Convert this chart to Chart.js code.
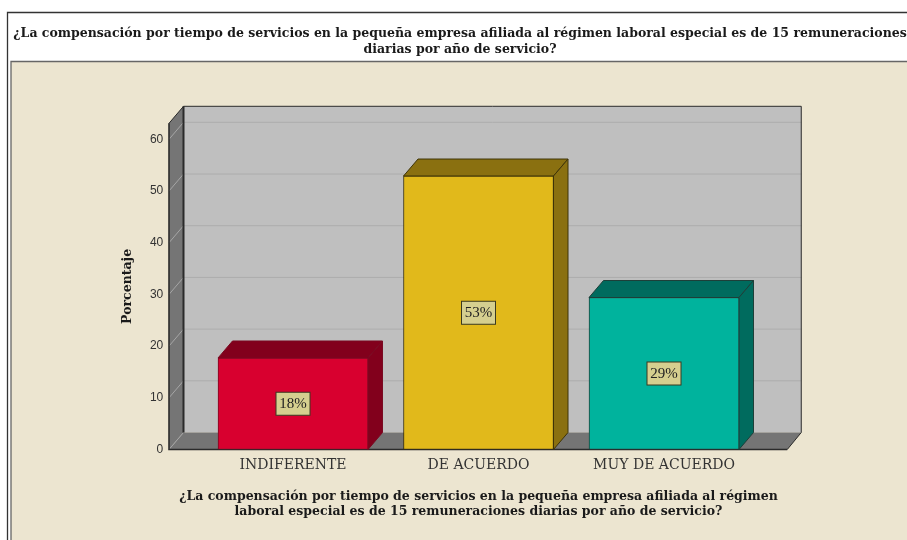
<!DOCTYPE html>
<html>
<head>
<meta charset="utf-8">
<title>Porcentaje</title>
<script src="https://cdn.jsdelivr.net/npm/chart.js@4"></script>
<style>
html,body{margin:0;padding:0;background:#fff;}
canvas{display:block;}
</style>
</head>
<body>
<canvas id="chart" width="907" height="540"></canvas>
<script>
const categories = ['INDIFERENTE','DE ACUERDO','MUY DE ACUERDO'];
const values = [17.7,52.9,29.4];
const pctLabels = ['18%','53%','29%'];
const yTicks = [0,10,20,30,40,50,60];
const faceColors = ['#D8002F','#E1B91B','#00B39D'];
const sideColors = ['#82001C','#8A7010','#006B5E'];
const edgeColors = ['#7A0A22','#3F3408','#1E3F39'];
const titleLines = ['¿La compensación por tiempo de servicios en la pequeña empresa afiliada al régimen laboral especial es de 15 remuneraciones','diarias por año de servicio?'];
const xTitleLines = ['¿La compensación por tiempo de servicios en la pequeña empresa afiliada al régimen','laboral especial es de 15 remuneraciones diarias por año de servicio?'];

const DX = 14.5, DY = 17;
const SERIF = '"DejaVu Serif", serif';

function poly(ctx, pts, fill, stroke, lw){
  ctx.beginPath();
  pts.forEach((p,i)=> i ? ctx.lineTo(p[0],p[1]) : ctx.moveTo(p[0],p[1]));
  ctx.closePath();
  if(fill){ ctx.fillStyle = fill; ctx.fill(); }
  if(stroke){ ctx.strokeStyle = stroke; ctx.lineWidth = lw || 1; ctx.stroke(); }
}

const framePlugin = {
  id:'frame',
  afterLayout(chart){
    // title is centred on the frame, not on the canvas
    chart.titleBlock.left = 0;
    chart.titleBlock.right = 920;
    // axis title is wider than the plot, give it room so it is not squeezed
    chart.scales.x.left -= 40;
    chart.scales.x.right += 40;
  },
  beforeDraw(chart){
    const c = chart.ctx;
    c.save();
    c.fillStyle = '#fff';
    c.fillRect(0,0,907,540);
    c.fillStyle = '#ECE5D0';
    c.fillRect(11,62,896,478);
    c.strokeStyle = '#333';
    c.lineWidth = 1.3;
    c.beginPath();
    c.moveTo(7.5,540); c.lineTo(7.5,12.5); c.lineTo(907,12.5);
    c.stroke();
    c.beginPath();
    c.moveTo(11,540); c.lineTo(11,61.5); c.lineTo(907,61.5);
    c.strokeStyle = '#666';
    c.stroke();
    c.restore();
  }
};

const box3dPlugin = {
  id:'box3d',
  beforeDatasetsDraw(chart){
    const c = chart.ctx, y = chart.scales.y, a = chart.chartArea;
    const l = a.left-31.25, r = a.right+30.5, t = a.top, b = a.bottom;
    c.save();
    // back wall, side wall, floor
    poly(c,[[l+DX,t-DY],[r+DX-0.5,t-DY],[r+DX-0.5,b-DY],[l+DX,b-DY]],'#BFBFBF');
    poly(c,[[l,t],[l+DX,t-DY],[l+DX,b-DY],[l,b]],'#757575');
    poly(c,[[l,b],[l+DX,b-DY],[r+DX-0.5,b-DY],[r,b]],'#757575');
    yTicks.forEach(v=>{
      const py = y.getPixelForValue(v);
      if(v>0){
        c.strokeStyle = '#ADADAD'; c.lineWidth = 1;
        c.beginPath(); c.moveTo(l+DX,py-DY); c.lineTo(r+DX-0.5,py-DY); c.stroke();
      }
      c.strokeStyle = '#A6A6A6'; c.lineWidth = 1;
      c.beginPath(); c.moveTo(l,py); c.lineTo(l+DX,py-DY); c.stroke();
    });
    // wall outlines
    c.strokeStyle = '#2b2b2b'; c.lineWidth = 1;
    c.beginPath();
    c.moveTo(l,t); c.lineTo(l+DX,t-DY); c.lineTo(r+DX-0.5,t-DY); c.lineTo(r+DX-0.5,b-DY); c.lineTo(r,b);
    c.stroke();
    c.lineWidth = 2;
    c.beginPath(); c.moveTo(l+DX,t-DY); c.lineTo(l+DX,b-DY); c.stroke();
    c.lineWidth = 1.6;
    c.beginPath(); c.moveTo(l,t); c.lineTo(l,b); c.lineTo(r,b); c.stroke();
    // bar top and side faces
    chart.getDatasetMeta(0).data.forEach((bar,i)=>{
      const p = bar.getProps(['x','y','base','width'],true);
      const xl = p.x-p.width/2, xr = p.x+p.width/2;
      poly(c,[[xl,p.y],[xl+DX,p.y-DY],[xr+DX,p.y-DY],[xr,p.y]],sideColors[i],edgeColors[i],1);
      poly(c,[[xr,p.y],[xr+DX,p.y-DY],[xr+DX,p.base-DY],[xr,p.base]],sideColors[i],edgeColors[i],1);
    });
    c.restore();
  },
  afterDatasetsDraw(chart){
    const c = chart.ctx;
    c.save();
    c.font = '15px "Liberation Serif", serif';
    c.textAlign = 'center';
    c.textBaseline = 'middle';
    chart.getDatasetMeta(0).data.forEach((bar,i)=>{
      const p = bar.getProps(['x','y','base'],true);
      const my = (p.y+p.base)/2;
      c.fillStyle = '#D5CF8F';
      c.strokeStyle = '#3a3a20';
      c.lineWidth = 1;
      c.fillRect(p.x-17,my-11.5,34,23);
      c.strokeRect(p.x-17,my-11.5,34,23);
      c.fillStyle = '#222';
      c.fillText(pctLabels[i],p.x,my+0.5);
    });
    c.restore();
  }
};

new Chart(document.getElementById('chart'),{
  type:'bar',
  data:{
    labels:categories,
    datasets:[{
      label:'Porcentaje',
      data:values,
      backgroundColor:faceColors,
      borderColor:edgeColors,
      borderWidth:1,
      borderSkipped:false,
      barThickness:150
    }]
  },
  plugins:[framePlugin,box3dPlugin],
  options:{
    responsive:false,
    animation:false,
    events:[],
    layout:{padding:{left:0,right:150.25,top:0,bottom:0}},
    plugins:{
      legend:{display:false},
      tooltip:{enabled:false},
      title:{
        display:true,
        text:titleLines,
        color:'#1a1a1a',
        font:{family:SERIF,size:12.5,weight:'bold',lineHeight:'16px'},
        padding:{top:26,bottom:65.3}
      }
    },
    scales:{
      x:{
        grid:{display:false,drawTicks:false},
        border:{display:false},
        afterFit(s){ s.height = 90.5; },
        ticks:{color:'#333',padding:7,maxRotation:0,font:{family:SERIF,size:14}},
        title:{
          display:true,
          text:xTitleLines,
          color:'#1a1a1a',
          font:{family:SERIF,size:12.5,weight:'bold',lineHeight:'15px'},
          padding:{top:0,bottom:21}
        }
      },
      y:{
        min:0,
        max:63.1,
        grid:{display:false,drawTicks:false},
        border:{display:false},
        afterFit(s){ s.width = 200.25; },
        afterBuildTicks(s){ s.ticks = yTicks.map(v=>({value:v})); },
        ticks:{color:'#333',padding:37,font:{family:'"Liberation Sans", sans-serif',size:12}},
        title:{
          display:true,
          text:'Porcentaje',
          color:'#1a1a1a',
          font:{family:SERIF,size:12.5,weight:'bold'},
          padding:{top:120,bottom:0}
        }
      }
    }
  }
});
</script>
</body>
</html>
